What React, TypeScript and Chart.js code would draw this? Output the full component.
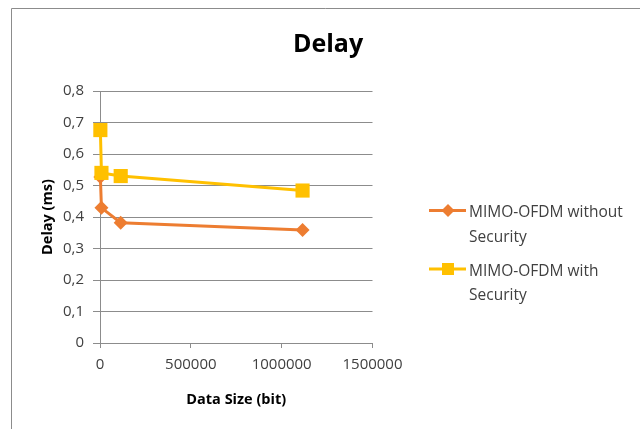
import React, { useEffect, useRef } from "react";
import { Chart, registerables } from "chart.js";

Chart.register(...registerables);

const chartTitle = "Delay";
const xAxisTitle = "Data Size (bit)";
const yAxisTitle = "Delay (ms)";
const dataSizes = [2000, 8000, 114000, 1115000];
const delayWithoutSecurity = [0.527, 0.429, 0.382, 0.359];
const delayWithSecurity = [0.676, 0.540, 0.530, 0.484];
const seriesLabels = ["MIMO-OFDM without Security", "MIMO-OFDM with Security"];
const seriesColors = ["#ED7D31", "#FFC000"];
const xTicks = [0, 500000, 1000000, 1500000];

const FONT = "'Open Sans', 'Liberation Sans', sans-serif";

function wrapText(ctx: CanvasRenderingContext2D, text: string, maxWidth: number): string[] {
  const words = text.split(" ");
  const lines: string[] = [];
  let cur = "";
  for (const w of words) {
    const test = cur ? cur + " " + w : w;
    if (ctx.measureText(test).width > maxWidth && cur) {
      lines.push(cur);
      cur = w;
    } else cur = test;
  }
  if (cur) lines.push(cur);
  return lines;
}

const decorPlugin = {
  id: "decor",
  afterDraw(chart: any) {
    const ctx: CanvasRenderingContext2D = chart.ctx;
    ctx.save();
    // frame (top and left edges visible)
    ctx.strokeStyle = "#8C8C8C";
    ctx.lineWidth = 1;
    ctx.beginPath();
    ctx.moveTo(11.5, 429);
    ctx.lineTo(11.5, 8.5);
    ctx.lineTo(640, 8.5);
    ctx.stroke();
    // title
    ctx.fillStyle = "#000000";
    ctx.font = `bold 25px ${FONT}`;
    ctx.textAlign = "center";
    ctx.textBaseline = "alphabetic";
    ctx.fillText(chartTitle, 328, 52);
    // legend
    ctx.font = `15.5px ${FONT}`;
    ctx.textAlign = "left";
    let baseY = 217;
    chart.data.datasets.forEach((ds: any) => {
      const ly = baseY - 6.5;
      ctx.strokeStyle = ds.borderColor;
      ctx.lineWidth = 3;
      ctx.beginPath();
      ctx.moveTo(429, ly);
      ctx.lineTo(466, ly);
      ctx.stroke();
      ctx.fillStyle = ds.backgroundColor;
      ctx.beginPath();
      if (ds.pointStyle === "rect") {
        ctx.rect(448 - 6, ly - 6, 12, 12);
      } else {
        ctx.moveTo(448 - 6.5, ly);
        ctx.lineTo(448, ly - 6.5);
        ctx.lineTo(448 + 6.5, ly);
        ctx.lineTo(448, ly + 6.5);
        ctx.closePath();
      }
      ctx.fill();
      ctx.fillStyle = "#404040";
      const lines = wrapText(ctx, ds.label, 165);
      lines.forEach((t, k) => ctx.fillText(t, 469, baseY + k * 24.5));
      baseY += 58.5;
    });
    ctx.restore();
  },
};

export default function App() {
  const ref = useRef<HTMLCanvasElement>(null);
  useEffect(() => {
    if (!ref.current) return;
    const chart = new Chart(ref.current, {
      type: "line",
      data: {
        datasets: [
          {
            label: seriesLabels[0],
            data: dataSizes.map((x, i) => ({ x, y: delayWithoutSecurity[i] })),
            borderColor: seriesColors[0],
            backgroundColor: seriesColors[0],
            borderWidth: 3,
            pointStyle: "rectRot",
            pointRadius: 7,
            pointBorderWidth: 0,
            clip: false,
            order: 2,
          },
          {
            label: seriesLabels[1],
            data: dataSizes.map((x, i) => ({ x, y: delayWithSecurity[i] })),
            borderColor: seriesColors[1],
            backgroundColor: seriesColors[1],
            borderWidth: 3,
            pointStyle: "rect",
            pointRadius: 10,
            pointBorderWidth: 0,
            clip: false,
            order: 1,
          },
        ],
      },
      options: {
        responsive: false,
        animation: false,
        layout: { padding: { left: 0, top: 91, right: 267.5, bottom: 0 } },
        plugins: { legend: { display: false }, title: { display: false }, tooltip: { enabled: false } },
        scales: {
          x: {
            type: "linear",
            min: 0,
            max: 1500000,
            afterBuildTicks: (scale: any) => {
              scale.ticks = xTicks.map((v) => ({ value: v }));
            },
            afterFit: (scale: any) => {
              scale.height = 86;
            },
            grid: { drawOnChartArea: false, drawTicks: true, tickLength: 5, color: "#8C8C8C" },
            border: { color: "#8C8C8C" },
            ticks: {
              color: "#404040",
              font: { family: FONT, size: 15 },
              padding: 8,
              maxRotation: 0,
              autoSkip: false,
              callback: (v: any) => String(v),
            },
            title: {
              display: true,
              text: xAxisTitle,
              color: "#000000",
              font: { family: FONT, size: 14.5, weight: "bold" },
              padding: { top: 0, bottom: 20 },
            },
          },
          y: {
            min: 0,
            max: 0.8,
            afterFit: (scale: any) => {
              scale.width = 100;
            },
            ticks: {
              stepSize: 0.1,
              color: "#404040",
              font: { family: FONT, size: 15 },
              padding: 9,
              callback: (v: any) => (v === 0 ? "0" : Number(v).toFixed(1).replace(".", ",")),
            },
            grid: { color: "#8C8C8C", tickLength: 7, drawTicks: true },
            border: { color: "#8C8C8C" },
            title: {
              display: true,
              text: yAxisTitle,
              color: "#000000",
              font: { family: FONT, size: 14.5, weight: "bold" },
              padding: { top: 39, bottom: 0 },
            },
          },
        },
      },
      plugins: [decorPlugin],
    } as any);
    return () => chart.destroy();
  }, []);
  return (
    <div style={{ position: "absolute", left: 0, top: 0, width: 640, height: 429, background: "#fff" }}>
      <canvas ref={ref} width={640} height={429} style={{ width: 640, height: 429, display: "block" }} />
    </div>
  );
}
